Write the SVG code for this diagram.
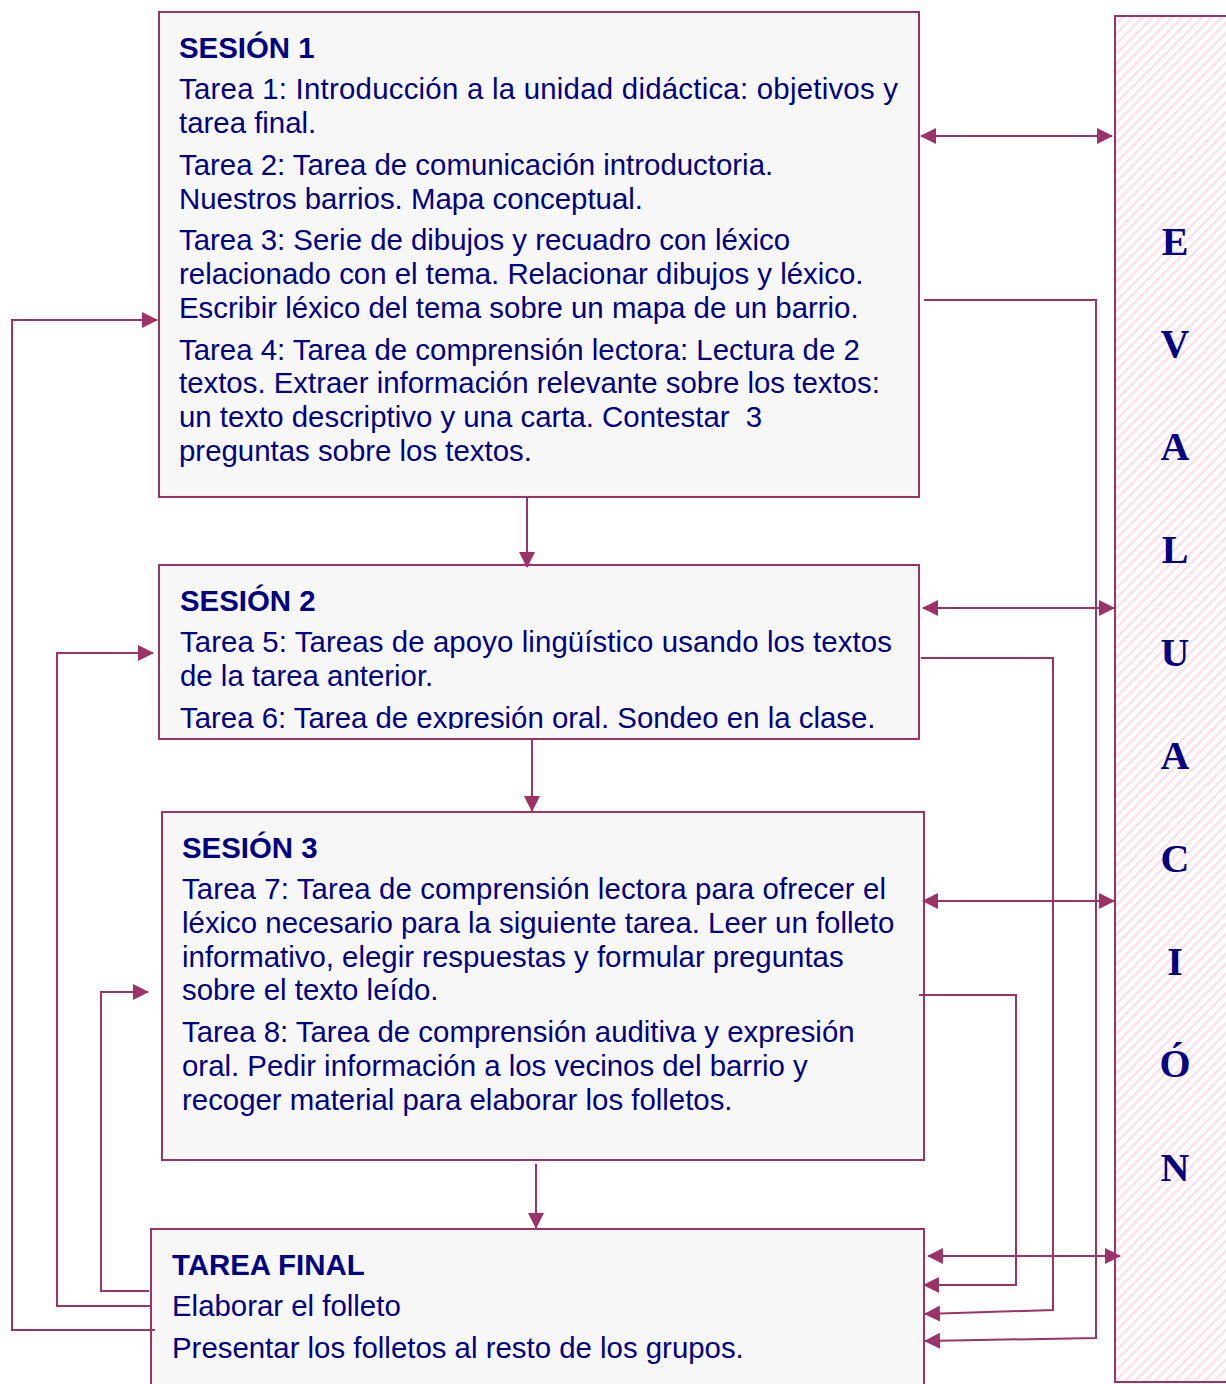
<svg xmlns="http://www.w3.org/2000/svg" width="1226" height="1384" viewBox="0 0 1226 1384">
<style>
.box{fill:#f7f7f7;stroke:#9b3366;stroke-width:2}
.t{font-family:"Liberation Sans",Arial,sans-serif;font-size:29.4px;fill:#000080}
.h{font-weight:bold}
.ev{font-family:"Liberation Serif","Times New Roman",serif;font-size:40px;font-weight:bold;fill:#000080;text-anchor:middle}
.c{fill:none;stroke:#9b3366;stroke-width:2}
</style>
<defs>
<marker id="ah" markerUnits="userSpaceOnUse" markerWidth="16" markerHeight="16" viewBox="0 0 16 16" refX="15" refY="8" orient="auto-start-reverse">
<path d="M0,0 L16,8 L0,16 Z" fill="#9b3366"/>
</marker>
<pattern id="hatch" patternUnits="userSpaceOnUse" width="7" height="7" patternTransform="rotate(45)">
<rect width="7" height="7" fill="#ffffff"/>
<rect x="0" y="0" width="2.5" height="7" fill="#f9e0e9"/>
</pattern>
<clipPath id="clip2"><rect x="159" y="565" width="760" height="164"/></clipPath>
</defs>

<g id="evaluacion">
<rect x="1115" y="16" width="120" height="1366" fill="url(#hatch)" stroke="#9b3366" stroke-width="2"/>
<text class="ev" x="1175" y="255">E</text>
<text class="ev" x="1175" y="357">V</text>
<text class="ev" x="1175" y="460">A</text>
<text class="ev" x="1175" y="563">L</text>
<text class="ev" x="1175" y="666">U</text>
<text class="ev" x="1175" y="769">A</text>
<text class="ev" x="1175" y="872">C</text>
<text class="ev" x="1175" y="975">I</text>
<text class="ev" x="1175" y="1077">Ó</text>
<text class="ev" x="1175" y="1181">N</text>
</g>

<g id="sesion1">
<rect class="box" x="159" y="12" width="760" height="485"/>
<text class="t h" x="179" y="58">SESIÓN 1</text>
<text class="t" x="179" y="99" textLength="719" lengthAdjust="spacing">Tarea 1: Introducción a la unidad didáctica: objetivos y</text>
<text class="t" x="179" y="133">tarea final.</text>
<text class="t" x="179" y="175">Tarea 2: Tarea de comunicación introductoria.</text>
<text class="t" x="179" y="209">Nuestros barrios. Mapa conceptual.</text>
<text class="t" x="179" y="250">Tarea 3: Serie de dibujos y recuadro con léxico</text>
<text class="t" x="179" y="284">relacionado con el tema. Relacionar dibujos y léxico.</text>
<text class="t" x="179" y="318">Escribir léxico del tema sobre un mapa de un barrio.</text>
<text class="t" x="179" y="360">Tarea 4: Tarea de comprensión lectora: Lectura de 2</text>
<text class="t" x="179" y="393">textos. Extraer información relevante sobre los textos:</text>
<text class="t" x="179" y="427" xml:space="preserve">un texto descriptivo y una carta. Contestar  3</text>
<text class="t" x="179" y="461">preguntas sobre los textos.</text>
</g>

<g id="sesion2">
<rect class="box" x="159" y="565" width="760" height="174"/>
<g clip-path="url(#clip2)">
<text class="t h" x="180" y="611">SESIÓN 2</text>
<text class="t" x="180" y="652" textLength="712" lengthAdjust="spacing">Tarea 5: Tareas de apoyo lingüístico usando los textos</text>
<text class="t" x="180" y="686">de la tarea anterior.</text>
<text class="t" x="180" y="728">Tarea 6: Tarea de expresión oral. Sondeo en la clase.</text>
</g>
</g>

<g id="sesion3">
<rect class="box" x="162" y="812" width="762" height="348"/>
<text class="t h" x="182" y="858">SESIÓN 3</text>
<text class="t" x="182" y="899" textLength="704" lengthAdjust="spacing">Tarea 7: Tarea de comprensión lectora para ofrecer el</text>
<text class="t" x="182" y="933">léxico necesario para la siguiente tarea. Leer un folleto</text>
<text class="t" x="182" y="967">informativo, elegir respuestas y formular preguntas</text>
<text class="t" x="182" y="1000">sobre el texto leído.</text>
<text class="t" x="182" y="1042">Tarea 8: Tarea de comprensión auditiva y expresión</text>
<text class="t" x="182" y="1076">oral. Pedir información a los vecinos del barrio y</text>
<text class="t" x="182" y="1110">recoger material para elaborar los folletos.</text>
</g>

<g id="tarea_final">
<rect class="box" x="151" y="1229" width="773" height="170"/>
<text class="t h" x="172" y="1275">TAREA FINAL</text>
<text class="t" x="172" y="1316">Elaborar el folleto</text>
<text class="t" x="172" y="1358">Presentar los folletos al resto de los grupos.</text>
</g>

<g id="connectors">
<line class="c" x1="527" y1="498" x2="527" y2="567" marker-end="url(#ah)"/>
<line class="c" x1="532" y1="740" x2="532" y2="811" marker-end="url(#ah)"/>
<line class="c" x1="536" y1="1164" x2="536" y2="1228" marker-end="url(#ah)"/>

<line class="c" x1="921" y1="136" x2="1112" y2="136" marker-start="url(#ah)" marker-end="url(#ah)"/>
<line class="c" x1="923" y1="608" x2="1114" y2="608" marker-start="url(#ah)" marker-end="url(#ah)"/>
<line class="c" x1="923" y1="901" x2="1114" y2="901" marker-start="url(#ah)" marker-end="url(#ah)"/>
<line class="c" x1="928" y1="1256" x2="1120" y2="1256" marker-start="url(#ah)" marker-end="url(#ah)"/>

<polyline class="c" points="924,300 1096,300 1096,1338 925,1341" marker-end="url(#ah)"/>
<polyline class="c" points="921,658 1053,658 1053,1310 925,1314" marker-end="url(#ah)"/>
<polyline class="c" points="919,995 1016,995 1016,1285 924,1285" marker-end="url(#ah)"/>

<polyline class="c" points="155,1330 12,1330 12,320 157,320" marker-end="url(#ah)"/>
<polyline class="c" points="151,1306 57,1306 57,653 153,653" marker-end="url(#ah)"/>
<polyline class="c" points="149,1291 101,1291 101,992 148,992" marker-end="url(#ah)"/>
</g>
</svg>
